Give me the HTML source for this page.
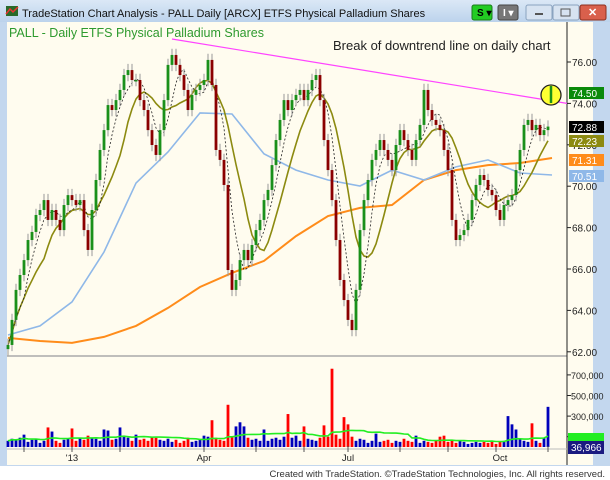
<!DOCTYPE html>
<html><head><meta charset="utf-8"><style>
body{margin:0;background:#fff;}
svg{display:block;font-family:"Liberation Sans",sans-serif;}
</style></head><body>
<svg id="c" width="610" height="480" viewBox="0 0 610 480">
<defs><linearGradient id="tb" x1="0" y1="0" x2="0" y2="1"><stop offset="0" stop-color="#dbe8f6"/><stop offset="1" stop-color="#bcd3ec"/></linearGradient></defs>
<rect x="0" y="0" width="610" height="468" fill="#c3d7ee"/>
<rect x="0" y="0" width="610" height="22" fill="url(#tb)"/>
<g><rect x="6" y="6" width="12" height="10" fill="#2a6a2a"/><path d="M6 14 L10 9 L13 12 L18 7" stroke="#e33" stroke-width="1.5" fill="none"/></g>
<text x="22" y="17" font-size="11" fill="#111">TradeStation Chart Analysis - PALL Daily [ARCX] ETFS Physical Palladium Shares</text>
<g><rect x="472" y="5" width="20" height="15" rx="2" fill="#22cc22" stroke="#1a7a1a"/><text x="477" y="16" font-size="10" font-weight="bold" fill="#000">S ▾</text></g>
<g><rect x="498" y="5" width="20" height="15" rx="2" fill="#777" stroke="#444"/><text x="503" y="16" font-size="10" font-weight="bold" fill="#fff">I ▾</text></g>
<g><rect x="526" y="5" width="26" height="15" rx="2" fill="#d7e3f1" stroke="#8aa3c0"/><rect x="535" y="13" width="8" height="2" fill="#555"/></g>
<g><rect x="553" y="5" width="26" height="15" rx="2" fill="#d7e3f1" stroke="#8aa3c0"/><rect x="561" y="9" width="9" height="7" fill="none" stroke="#555"/></g>
<g><rect x="580" y="5" width="26" height="15" rx="2" fill="#d9604c" stroke="#8a3020"/><text x="588" y="16" font-size="11" font-weight="bold" fill="#fff">✕</text></g>
<rect x="7" y="22" width="586" height="443" fill="#fffcef"/>
<line x1="7" y1="356" x2="567" y2="356" stroke="#aaa" stroke-width="1.5"/>
<line x1="567" y1="22" x2="567" y2="465" stroke="#222"/>
<line x1="7" y1="449" x2="567" y2="449" stroke="#bbb"/>
<text x="9" y="37" font-size="12.5" fill="#2e9a2e">PALL - Daily  ETFS Physical Palladium Shares</text>
<text x="333" y="50" font-size="13" fill="#222">Break of downtrend line on daily chart</text>
<g id="price"></g>
<g id="vol"></g>
<g id="axes"></g>
<rect x="0" y="466" width="610" height="14" fill="#fff"/>
<text x="605" y="477" font-size="9.5" fill="#333" text-anchor="end">Created with TradeStation. ©TradeStation Technologies, Inc. All rights reserved.</text>
</svg>
<script>
const closes=[62.33,63.54,64.99,65.71,66.43,67.40,67.79,68.61,68.85,69.33,68.37,68.85,68.37,67.88,69.09,69.57,69.33,69.09,69.33,67.88,66.92,68.85,70.30,71.75,72.71,73.92,73.68,74.16,74.65,75.37,75.61,75.13,75.13,74.16,73.68,72.71,71.99,71.51,72.71,74.16,75.86,76.34,75.86,75.37,74.65,73.68,74.41,74.65,74.89,75.13,76.10,74.89,71.75,71.27,70.06,65.95,64.99,65.47,66.43,66.92,66.43,67.16,67.88,68.37,69.33,69.82,71.02,72.23,73.20,74.16,73.68,74.16,74.41,74.65,74.16,74.65,75.13,75.37,74.16,72.23,70.78,69.33,67.40,65.47,64.50,63.54,63.05,64.99,67.88,69.33,70.30,71.27,71.75,72.23,71.75,71.27,70.78,71.99,72.71,72.23,71.75,71.27,72.23,72.96,74.65,73.68,73.20,72.96,72.71,71.75,70.78,68.37,67.40,67.64,67.88,68.37,69.33,70.06,70.54,70.30,69.82,69.57,68.85,68.37,69.09,69.33,69.57,70.78,71.75,72.96,73.20,72.71,72.96,72.47,72.71,72.88];
const volumes=[60,80,70,90,120,50,70,80,40,60,190,150,60,40,70,80,180,60,90,70,110,90,80,60,170,160,70,80,190,100,90,60,120,70,80,60,100,90,70,60,80,50,70,40,60,90,50,60,70,110,100,260,90,70,60,410,100,200,240,200,90,70,80,60,170,60,80,90,70,100,320,90,110,60,200,80,70,60,90,210,100,760,120,80,290,220,100,60,80,70,40,60,130,50,60,70,40,60,50,80,60,50,110,40,60,50,40,60,100,110,50,60,40,60,50,30,40,50,40,50,40,60,30,50,60,300,220,170,80,60,50,230,60,40,90,390];
const ma50=[62.81,63.25,64.41,66.82,70.15,71.65,73.54,73.49,71.56,70.78,70.30,70.01,70.78,70.30,70.93,71.27,70.64,70.54];
const ma200=[62.67,62.52,62.43,62.72,63.25,64.12,65.13,65.81,66.39,67.59,68.56,68.95,69.09,70.30,70.78,71.02,71.12,71.36];
const trendLine=[77.11,74.00];
const priceTicks=[76,74,72,70,68,66,64,62];
const volTicks=[700,500,300,100];
const dateLabels=["'13","Apr","Jul","Oct"];
const dateLabelIdx=[16,49,85,123];
const tickIdx=[4,16,28,49,62,74,85,98,110,122,135];
const NS="http://www.w3.org/2000/svg";
const X0=8,DX=(548-8)/(closes.length-1);
const xI=i=>X0+i*DX;
const yP=p=>62+(76-p)*20.7;
const yV=v=>447-v*0.103;
function mk(t,a,parent){const e=document.createElementNS(NS,t);for(const k in a)e.setAttribute(k,a[k]);parent.appendChild(e);return e;}
const P=document.getElementById('price'),V=document.getElementById('vol'),A=document.getElementById('axes');
function sma(arr,n){return arr.map((_,i)=>{const s=arr.slice(Math.max(0,i-n+1),i+1);return s.reduce((a,b)=>a+b,0)/s.length;});}
function line(vals,xs,color,w,dash,name,parent,yf){const pts=vals.map((v,i)=>xs(i).toFixed(1)+','+yf(v).toFixed(1)).join(' ');const l=mk('polyline',{points:pts,fill:'none',stroke:color,'stroke-width':w},parent);if(dash)l.setAttribute('stroke-dasharray',dash);

return l;}
// MAs sampled
const sx=i=>X0+i*(552-8)/(ma50.length-1);
line(ma200,sx,'#ff8c1a',2,null,'ma-200-line',P,yP);
line(ma50,sx,'#8fb8e8',1.6,null,'ma-50-line',P,yP);
line(sma(closes,10),xI,'#8c8a10',1.6,null,'ma-20-line',P,yP);
line(sma(closes,5),xI,'#222',0.8,'2,2','ma-10-dashed-line',P,yP);
// trend line
const tl=mk('line',{x1:172,y1:yP(trendLine[0]),x2:567,y2:yP(trendLine[1]),stroke:'#ff44ff','stroke-width':1.2},P);


// candles
closes.forEach((c,i)=>{const o=i?closes[i-1]:c-0.2;const up=c>=o;const x=xI(i);
const w=mk('line',{x1:x,x2:x,y1:yP(Math.max(o,c)+0.3),y2:yP(Math.min(o,c)-0.3),stroke:'#999','stroke-width':1},P);


const b=mk('rect',{x:x-1.4,y:yP(Math.max(o,c)),width:2.8,height:Math.max(1.5,Math.abs(yP(o)-yP(c))),fill:up?'#1a901a':'#8b0000'},P);


const vb=mk('rect',{x:x-1.4,y:yV(volumes[i]),width:2.8,height:447-yV(volumes[i]),fill:up?'#0000bb':'#ff0000'},V);

});
line(sma(volumes,20),xI,'#22ee22',1.6,null,'volume-average-line',V,yV);
// highlight circle
const lastX=xI(closes.length-1)+3;
const circ=mk('circle',{cx:lastX,cy:95,r:10,fill:'#ffff33',stroke:'#222','stroke-width':1.3},P);


mk('line',{x1:lastX,x2:lastX,y1:86,y2:103,stroke:'#1a901a','stroke-width':2.5},P);
// axes
priceTicks.forEach(p=>{const y=yP(p);mk('line',{x1:567,x2:571,y1:y,y2:y,stroke:'#222'},A);
const t=mk('text',{x:572,y:y+4,'font-size':10,fill:'#222'},A);t.textContent=p.toFixed(2);

});
volTicks.forEach(v=>{const y=yV(v);mk('line',{x1:567,x2:571,y1:y,y2:y,stroke:'#222'},A);
const t=mk('text',{x:571,y:y+4,'font-size':9,fill:'#222'},A);t.textContent=(v*1000).toLocaleString('en-US');

});
tickIdx.forEach(i=>mk('line',{x1:xI(i),x2:xI(i),y1:446,y2:452,stroke:'#555'},A));
dateLabels.forEach((d,k)=>{const t=mk('text',{x:xI(dateLabelIdx[k]),y:461,'font-size':9.5,fill:'#222','text-anchor':'middle'},A);t.textContent=d;

});
// value boxes
const boxes=[[74.50,'#0a8a0a','#fff','74.50',yP(74.50)+0],[closes[closes.length-1],'#000','#fff',closes[closes.length-1].toFixed(2),0],[sma(closes,10).slice(-1)[0],'#8c8a10','#fff',null,0],[ma200[ma200.length-1],'#ff8c1a','#fff',null,0],[ma50[ma50.length-1],'#8fb8e8','#fff',null,0]];
const labelsTxt=['74.50',closes[closes.length-1].toFixed(2),'72.23','71.31','70.51'];
const boxY=[93,127,141,160,176];
boxes.forEach((b,k)=>{const r=mk('rect',{x:569,y:boxY[k]-6,width:35,height:12,fill:b[1]},A);


const t=mk('text',{x:572,y:boxY[k]+4,'font-size':10,fill:b[2]},A);t.textContent=labelsTxt[k];});
const vr=mk('rect',{x:568,y:441,width:36,height:13,fill:'#1a1a80'},A);


mk('rect',{x:568,y:433,width:36,height:8,fill:'#22ee22'},A);
const vt=mk('text',{x:571,y:451,'font-size':10,fill:'#fff'},A);vt.textContent='36,966';
</script>
</body></html>
